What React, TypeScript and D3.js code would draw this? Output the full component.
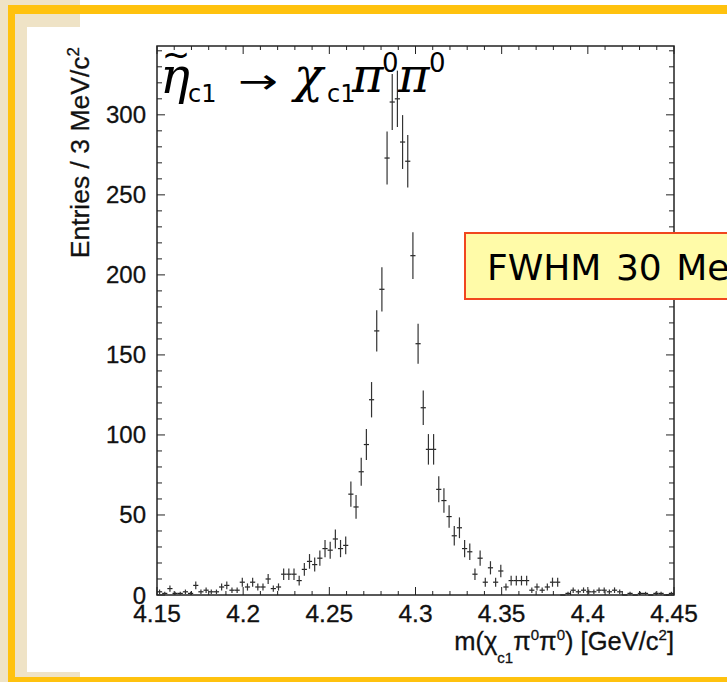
import React from "react";
import * as d3 from "d3";

// ---- data ----
const binLow = 4.15;
const binWidth = 0.003;
const counts: number[] = [
  2, 1, 4, 1, 1, 2, 1, 6, 2, 3, 2, 2,
  5, 6, 3, 3, 8, 5, 8, 5, 5, 10, 4, 5,
  13, 13, 13, 9, 16, 21, 19, 23, 29, 28, 35, 29, 31,
  63, 55, 77, 94, 122, 165, 191, 273, 308, 310, 283, 271, 212, 157, 117, 91, 91,
  66, 59, 49, 37, 42, 29, 27, 13, 23, 8, 17, 8, 15, 5, 9, 9, 9, 9, 3, 5, 3, 5, 8, 8,
  0, 1, 3, 2, 3, 2, 2, 3, 3, 2, 3, 2, 0, 1, 0, 1, 1, 0, 1, 1, 0, 1,
];
const xTickValues = [4.15, 4.2, 4.25, 4.3, 4.35, 4.4, 4.45];
const xTickLabels = ["4.15", "4.2", "4.25", "4.3", "4.35", "4.4", "4.45"];
const yTickValues = [0, 50, 100, 150, 200, 250, 300];
const yTickLabels = ["0", "50", "100", "150", "200", "250", "300"];

const W = 727;
const H = 682;
const FL = 157, FR = 674, FT = 46, FB = 595;

export default function App() {
  const x = d3.scaleLinear().domain([4.15, 4.45]).range([FL, FR]);
  const y = d3.scaleLinear().domain([0, 343]).range([FB, FT]);
  const xMinor = d3.range(0, 31).map((i) => 4.15 + i * 0.01);
  const yMinor = d3.range(0, 35).map((i) => i * 10);
  const isMajorX = (v: number) => Math.abs(Math.round(v * 100) % 5) === 0;
  const ink = "#222";
  const sans = "'Liberation Sans', Arial, Helvetica, sans-serif";
  const dv = "'DejaVu Sans', Verdana, sans-serif";
  const greek = "'DejaVu Serif', serif";

  const pts = counts.map((c, i) => {
    const lo = binLow + i * binWidth;
    return { x0: lo, x1: lo + binWidth, xc: lo + binWidth / 2, c, e: Math.sqrt(c) };
  });

  return (
    <svg width={W} height={H} style={{ position: "absolute", left: 0, top: 0, display: "block" }}>
      {/* slide background */}
      <rect x={0} y={0} width={W} height={H} fill="#ffffff" />
      <rect x={0} y={0} width={80} height={27} fill="#EFE3C6" />
      <rect x={0} y={0} width={27} height={H} fill="#EFE3C6" />
      <rect x={27} y={672} width={53} height={10} fill="#EFE3C6" />
      <rect x={8} y={5} width={W - 8} height={9} fill="#FFC20E" />
      <rect x={8} y={5} width={7} height={H - 5} fill="#FFC20E" />
      <rect x={8} y={677} width={W - 8} height={5} fill="#FFC20E" />

      {/* frame */}
      <rect x={FL} y={FT} width={FR - FL} height={FB - FT} fill="none" stroke={ink} strokeWidth={1.5} />

      {/* x ticks bottom and top */}
      {xMinor.map((v, i) => {
        const len = isMajorX(v) ? 8 : 4;
        const px = x(v);
        return (
          <g key={"xt" + i}>
            <line x1={px} x2={px} y1={FB} y2={FB - len} stroke={ink} strokeWidth={1} />
            <line x1={px} x2={px} y1={FT} y2={FT + len} stroke={ink} strokeWidth={1} />
          </g>
        );
      })}
      {/* y ticks left and right */}
      {yMinor.map((v, i) => {
        const len = v % 50 === 0 ? 8 : 5;
        const py = y(v);
        return (
          <g key={"yt" + i}>
            <line x1={FL} x2={FL + len} y1={py} y2={py} stroke={ink} strokeWidth={1} />
            <line x1={FR} x2={FR - len} y1={py} y2={py} stroke={ink} strokeWidth={1} />
          </g>
        );
      })}

      {/* tick labels */}
      {xTickValues.map((v, i) => (
        <text key={"xl" + i} x={x(v)} y={622} textAnchor="middle" fontFamily={sans} fontSize={24.5} fill="#111" stroke="#111" strokeWidth={0.3}>
          {xTickLabels[i]}
        </text>
      ))}
      {yTickValues.map((v, i) => (
        <text key={"yl" + i} x={146} y={y(v) + 8.5} textAnchor="end" fontFamily={sans} fontSize={24} fill="#111" stroke="#111" strokeWidth={0.3}>
          {yTickLabels[i]}
        </text>
      ))}

      {/* axis titles */}
      <text transform="rotate(-90)" x={-47} y={89} textAnchor="end" fontFamily={sans} fontSize={26.5} fill="#111" stroke="#111" strokeWidth={0.3}>
        Entries / 3 MeV/c<tspan dy={-10} fontSize={17}>2</tspan>
      </text>
      <text x={674} y={650} textAnchor="end" fontFamily={sans} fontSize={25.5} fill="#111" stroke="#111" strokeWidth={0.3}>
        m(χ<tspan dy={13} fontSize={15}>c1</tspan>
        <tspan dy={-13}>π</tspan>
        <tspan dy={-10} fontSize={15}>0</tspan>
        <tspan dy={10}>π</tspan>
        <tspan dy={-10} fontSize={15}>0</tspan>
        <tspan dy={10}>) [GeV/c</tspan>
        <tspan dy={-10} fontSize={15}>2</tspan>
        <tspan dy={10}>]</tspan>
      </text>

      {/* data points with errors */}
      {pts.map((p, i) => (
        <g key={"p" + i}>
          <line x1={x(p.x0)} x2={x(p.x1)} y1={y(p.c)} y2={y(p.c)} stroke="#222" strokeWidth={1.2} />
          {p.c > 0 && (
            <line x1={x(p.xc)} x2={x(p.xc)} y1={y(p.c + p.e)} y2={y(Math.max(0, p.c - p.e))} stroke="#333" strokeWidth={1.2} />
          )}
        </g>
      ))}

      {/* title */}
      <text x={176} y={66} textAnchor="middle" fontFamily={dv} fontSize={34} fill="#000">~</text>
      <text x={160} y={93} fontFamily={greek} fontStyle="italic" fontSize={50} fill="#000">η</text>
      <text x={188} y={102} fontFamily={dv} fontSize={24} fill="#000">c1</text>
      <text x={238} y={93} fontFamily={dv} fontSize={34} fill="#000" textLength={40} lengthAdjust="spacingAndGlyphs">→</text>
      <text x={294} y={92} fontFamily={greek} fontStyle="italic" fontSize={48} fill="#000">χ</text>
      <text x={327} y={102} fontFamily={dv} fontSize={24} fill="#000">c1</text>
      <text x={352} y={92} fontFamily={greek} fontStyle="italic" fontSize={48} fill="#000">π</text>
      <text x={382} y={72} fontFamily={dv} fontSize={26} fill="#000">0</text>
      <text x={398} y={92} fontFamily={greek} fontStyle="italic" fontSize={48} fill="#000">π</text>
      <text x={429} y={72} fontFamily={dv} fontSize={26} fill="#000">0</text>

      {/* FWHM box */}
      <rect x={465} y={233} width={320} height={66} fill="#FFFBA8" stroke="#F0461E" strokeWidth={2} />
      <text x={487} y={280} fontFamily={dv} fontSize={36} fill="#000" wordSpacing={3}>FWHM 30 MeV</text>
    </svg>
  );
}
